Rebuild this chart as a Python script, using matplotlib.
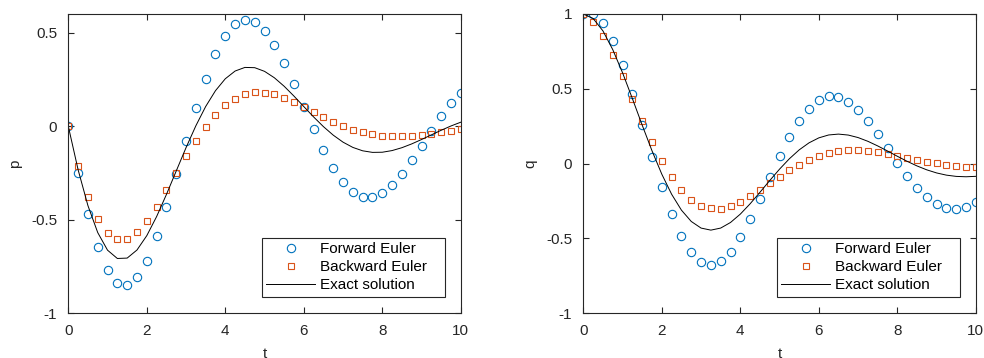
import numpy as np
import matplotlib
matplotlib.use('Agg')
import matplotlib.pyplot as plt

plt.rcParams['font.family'] = ['Liberation Sans', 'DejaVu Sans']
plt.rcParams['axes.unicode_minus'] = False

# time grid, step 0.25
t = np.linspace(0, 10, 41)

# forward Euler
p_fwd = [0, -0.25, -0.4688, -0.6445, -0.7690, -0.8377, -0.8497, -0.8079, -0.7182, -0.5892,
         -0.4314, -0.2565, -0.0766, 0.0969, 0.2535, 0.3845, 0.4833, 0.5456, 0.5700, 0.5572,
         0.5104, 0.4347, 0.3365, 0.2233, 0.1033, -0.0156, -0.1262, -0.2219, -0.2978, -0.3503,
         -0.3777, -0.3797, -0.3579, -0.3151, -0.2552, -0.1832, -0.1042, -0.0236, 0.0534, 0.1223,
         0.1792]
q_fwd = [1, 1, 0.9375, 0.8203, 0.6592, 0.4669, 0.2575, 0.0451, -0.1569, -0.3365,
         -0.4837, -0.5916, -0.6557, -0.6749, -0.6506, -0.5873, -0.4911, -0.3703, -0.2339, -0.0914,
         0.0479, 0.1755, 0.2842, 0.3683, 0.4241, 0.4500, 0.4461, 0.4145, 0.3591, 0.2846,
         0.1970, 0.1026, 0.0076, -0.0818, -0.1606, -0.2244, -0.2702, -0.2963, -0.3022, -0.2888,
         -0.2582]

# backward Euler
p_bwd = [0, -0.2105, -0.3767, -0.4969, -0.5719, -0.6050, -0.6010, -0.5660, -0.5067, -0.4302,
         -0.3430, -0.2516, -0.1614, -0.0769, -0.0017, 0.0617, 0.1118, 0.1482, 0.1710, 0.1812,
         0.1802, 0.1700, 0.1524, 0.1295, 0.1035, 0.0761, 0.0490, 0.0237, 0.0010, -0.0181,
         -0.0332, -0.0442, -0.0511, -0.0543, -0.0541, -0.0510, -0.0458, -0.0390, -0.0312, -0.0230,
         -0.0149]
q_bwd = [1, 0.9474, 0.8532, 0.7290, 0.5860, 0.4348, 0.2845, 0.1430, 0.0163, -0.0912,
         -0.1769, -0.2399, -0.2802, -0.2994, -0.2999, -0.2845, -0.2565, -0.2195, -0.1767, -0.1314,
         -0.0864, -0.0439, -0.0058, 0.0266, 0.0525, 0.0715, 0.0837, 0.0897, 0.0899, 0.0854,
         0.0771, 0.0661, 0.0533, 0.0397, 0.0262, 0.0135, 0.0020, -0.0078, -0.0156, -0.0213,
         -0.0250]

# exact solution
p_exact = [0, -0.2326, -0.4242, -0.5685, -0.6627, -0.7070, -0.7049, -0.6617, -0.5849, -0.4831,
           -0.3649, -0.2393, -0.1145, 0.0024, 0.1054, 0.1901, 0.2538, 0.2951, 0.3144, 0.3130,
           0.2934, 0.2591, 0.2136, 0.1610, 0.1051, 0.0497, -0.0021, -0.0477, -0.0852, -0.1133,
           -0.1314, -0.1398, -0.1390, -0.1301, -0.1147, -0.0944, -0.0710, -0.0462, -0.0216, 0.0014,
           0.0216]
q_exact = [1, 0.9702, 0.8871, 0.7620, 0.6071, 0.4348, 0.2574, 0.0858, -0.0706, -0.2046,
           -0.3108, -0.3864, -0.4306, -0.4443, -0.4305, -0.3932, -0.3372, -0.2682, -0.1915, -0.1127,
           -0.0366, 0.0328, 0.0921, 0.1390, 0.1723, 0.1916, 0.1974, 0.1910, 0.1743, 0.1492,
           0.1184, 0.0844, 0.0493, 0.0155, -0.0152, -0.0414, -0.0621, -0.0768, -0.0852, -0.0877,
           -0.0848]

x_ticks = [0, 2, 4, 6, 8, 10]
p_ticks = [-1, -0.5, 0, 0.5]
q_ticks = [-1, -0.5, 0, 0.5, 1]

blue = '#0072BD'
orange = '#D95319'
dark = '#262626'


def draw(ax, fwd, bwd, exact, name, ylim, yticks):
    ax.plot(t, fwd, 'o', mfc='none', mec=blue, ms=6, mew=0.8, label='Forward Euler')
    ax.plot(t, bwd, 's', mfc='none', mec=orange, ms=4.8, mew=0.8, label='Backward Euler')
    ax.plot(t, exact, '-', color='k', lw=0.7, label='Exact solution')

    ax.set_xlim(0, 10)
    ax.set_ylim(*ylim)
    ax.set_xticks(x_ticks, [f'{v:g}' for v in x_ticks])
    ax.set_yticks(yticks, [f'{v:g}' for v in yticks])
    ax.tick_params(direction='in', top=True, right=True, length=4, width=0.8,
                   colors=dark, labelsize=11, pad=8)
    for s in ax.spines.values():
        s.set_color(dark)
        s.set_linewidth(0.8)

    ax.set_xlabel('t', fontsize=11, color=dark)
    ax.xaxis.set_label_coords(0.5, -0.112)
    ax.set_ylabel(name, fontsize=11, color=dark)
    ax.yaxis.set_label_coords(-0.117, 0.5)

    leg = ax.legend(loc='lower left', bbox_to_anchor=(0.4927, 0.0555, 0.467, 0.2),
                    mode='expand', borderaxespad=0, fancybox=False, framealpha=1,
                    edgecolor=dark, fontsize=11, handlelength=3.2, handletextpad=0.33,
                    borderpad=0.3, labelspacing=0.25)
    leg.get_frame().set_linewidth(0.8)


fig = plt.figure(figsize=(9.84, 3.58), dpi=100)
ax1 = fig.add_axes([0.0694, 0.1249, 0.3989, 0.836])
ax2 = fig.add_axes([0.5928, 0.1249, 0.3989, 0.836])

draw(ax1, p_fwd, p_bwd, p_exact, 'p', (-1, 0.6), p_ticks)
draw(ax2, q_fwd, q_bwd, q_exact, 'q', (-1, 1), q_ticks)

fig.savefig('out.png', dpi=100)
